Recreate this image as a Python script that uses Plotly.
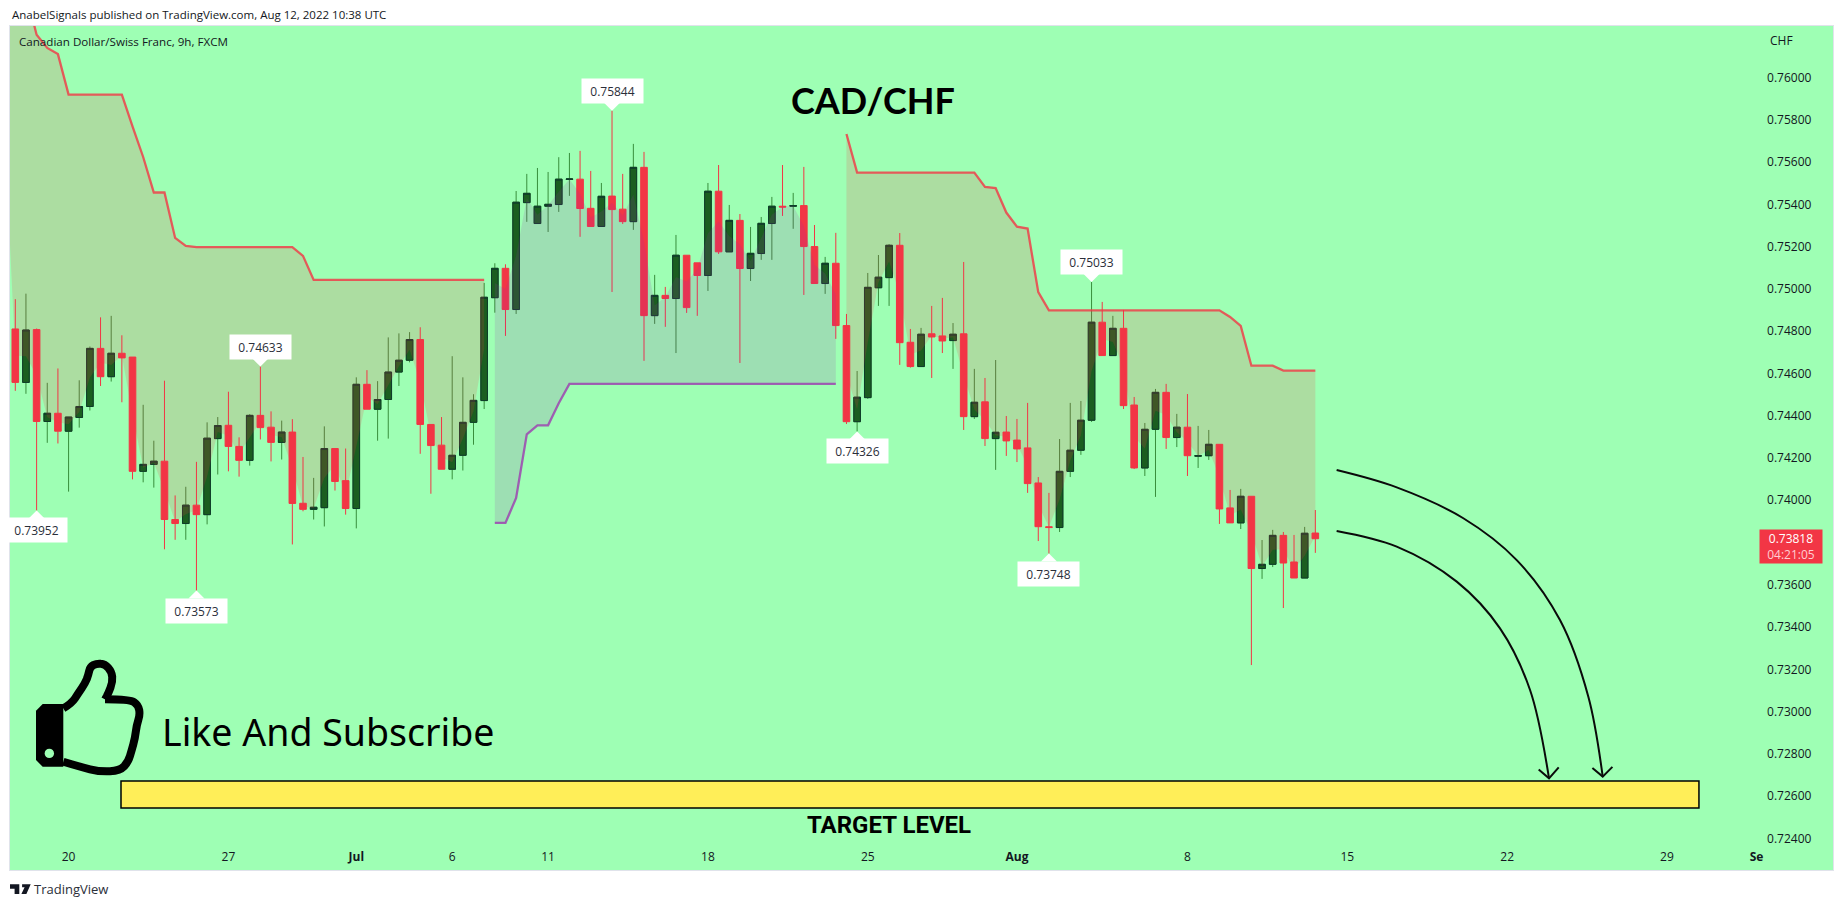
import plotly.graph_objects as go

OPEN = [.74811,.74558,.74808,.74373,.74412,.74327,.74392,.74444,.74719,.74585,.74696,.74678,.74137,.74170,.74185,.73909,.73890,.73977,.73932,.74292,
.74355,.74255,.74189,.74402,.74346,.74274,.74323,.73986,.73957,.73965,.74245,.74093,.73961,.74549,.74431,.74477,.74607,.74663,.74761,.74359,
.74261,.74147,.74213,.74369,.74472,.74959,.75098,.74903,.75409,.75310,.75392,.75400,.75519,.75520,.75382,.75296,.75440,.75378,.75319,.75576,
.74874,.74970,.74955,.75160,.75124,.75064,.75463,.75176,.75325,.75097,.75168,.75310,.75392,.75392,.75395,.75201,.75026,.75122,.74827,.74372,
.74486,.75006,.75054,.75207,.74748,.74633,.74788,.74778,.74756,.74788,.74396,.74466,.74292,.74323,.74285,.74248,.74082,.73875,.73871,.74137,
.74237,.74379,.74843,.74685,.74814,.74451,.74153,.74336,.74511,.74297,.74346,.74209,.74211,.74265,.73964,.73893,.74019,.73677,.73697,.73834,
.73708,.73632,.73845]
HIGH = [.74952,.74978,.74813,.74556,.74624,.74394,.74568,.74728,.74866,.74873,.74781,.74678,.74452,.74282,.74566,.74023,.74064,.74182,.74369,.74394,
.74514,.74298,.74408,.74633,.74421,.74377,.74384,.74205,.74106,.74350,.74245,.74245,.74582,.74616,.74564,.74771,.74790,.74796,.74819,.74359,
.74394,.74682,.74582,.74502,.75029,.75122,.75117,.75464,.75545,.75573,.75554,.75624,.75644,.75654,.75559,.75502,.75844,.75545,.75687,.75649,
.75067,.75010,.75256,.75160,.75124,.75502,.75587,.75398,.75355,.75294,.75341,.75436,.75587,.75455,.75578,.75303,.75152,.75266,.74882,.74612,
.75076,.75161,.75213,.75265,.74811,.74816,.74920,.74958,.74839,.75128,.74622,.74579,.74664,.74399,.74385,.74461,.74110,.74035,.74290,.74461,
.74470,.75033,.74939,.74873,.74901,.74489,.74366,.74527,.74551,.74409,.74503,.74352,.74333,.74265,.74049,.74054,.74019,.73812,.73860,.73850,
.73836,.73874,.73954]
LOW = [.74518,.74504,.73952,.74272,.74269,.74041,.74344,.74425,.74541,.74562,.74464,.74099,.74085,.74060,.73768,.73813,.73813,.73573,.73886,.74122,
.74137,.74112,.74164,.74288,.74184,.74193,.73791,.73948,.73909,.73876,.74046,.73932,.73867,.74431,.74282,.74292,.74541,.74653,.74220,.74031,
.74147,.74099,.74141,.74263,.74432,.74888,.74778,.74882,.75318,.75310,.75270,.75365,.75441,.75247,.75296,.75296,.74986,.75308,.75280,.74660,
.74835,.74821,.74697,.74887,.74873,.74991,.75166,.75176,.74650,.75038,.75138,.75138,.75346,.75285,.74972,.75026,.74977,.74764,.74361,.74326,
.74480,.74920,.74920,.74641,.74628,.74633,.74579,.74697,.74622,.74333,.74385,.74257,.74144,.74210,.74181,.74035,.73807,.73748,.73850,.74110,
.74215,.74371,.74685,.74685,.74432,.74148,.74115,.74016,.74243,.74252,.74115,.74153,.74191,.73888,.73893,.73864,.73220,.73628,.73684,.73490,
.73632,.73632,.73751]
CLOSE = [.74558,.74806,.74373,.74412,.74327,.74394,.74444,.74719,.74585,.74696,.74674,.74137,.74170,.74185,.73909,.73890,.73977,.73932,.74294,.74354,
.74255,.74189,.74402,.74344,.74274,.74323,.73985,.73957,.73967,.74245,.74089,.73961,.74549,.74431,.74477,.74607,.74663,.74761,.74359,.74259,
.74147,.74213,.74369,.74473,.74961,.75098,.74903,.75411,.75453,.75392,.75401,.75520,.75521,.75381,.75296,.75439,.75376,.75319,.75576,.74874,
.74970,.74955,.75160,.74912,.75064,.75463,.75176,.75325,.75097,.75169,.75311,.75392,.75388,.75395,.75201,.75026,.75122,.74827,.74372,.74488,
.75008,.75056,.75207,.74746,.74633,.74786,.74773,.74754,.74786,.74396,.74464,.74292,.74322,.74281,.74243,.74079,.73875,.73871,.74137,.74237,
.74379,.74843,.74685,.74814,.74448,.74153,.74336,.74511,.74297,.74346,.74211,.74211,.74265,.73959,.73893,.74019,.73677,.73697,.73834,.73703,
.73632,.73844,.73818]

ST_DOWN_1 = [.7680,.7660,.7640,.76204,.76141,.76112,.75920,.75920,.75920,.75920,.75920,.75920,.75770,.75625,.75457,.75457,.75242,.75204,
.75198,.75198,.75198,.75198,.75198,.75198,.75198,.75198,.75198,.75198,.75157,
.75043,.75043,.75043,.75043,.75043,.75043,.75043,.75043,.75043,.75043,.75043,.75043,.75043,.75043,.75043,.75043,.75043]
MID_BEFORE_FIRST = .7574
ST_UP = [.73893,.73893,.74011,.74312,.74355,.74355,.74459,
.74551,.74551,.74551,.74551,.74551,.74551,.74551,.74551,.74551,.74551,.74551,.74551,.74551,
.74551,.74551,.74551,.74551,.74551,.74551,.74551,.74551,.74551,.74551,.74551,.74551,.74551]
ST_DOWN_2 = [.75734,.75551,.75551,.75551,.75551,.75551,.75551,.75551,.75551,.75551,.75551,.75551,.75551,
.75483,.75478,.75362,.75295,.75286,.74985,
.74899,.74899,.74899,.74899,.74899,.74899,.74899,.74899,.74899,.74899,.74899,.74899,.74899,.74899,.74899,.74899,.74899,
.74868,.74825,.74637,.74637,.74637,.74614,.74614,.74614,.74614]

TICK_POS = [5,20,32,41,50,65,80,94,110,125,140,155,163.4]
TICK_TEXT = ["20","27","<b>Jul</b>","6","11","18","25","<b>Aug</b>","8","15","22","29","<b>Se</b>"]
PRICE_TICKS = [.724,.726,.728,.730,.732,.734,.736,.740,.742,.744,.746,.748,.750,.752,.754,.756,.758,.760]

CALLOUT_I = [2,17,23,56,79,97,101]
CALLOUT_P = [.73952,.73573,.74633,.75844,.74326,.73748,.75033]
CALLOUT_UP = [False,False,True,True,False,False,True]

ZONE_X = [9.92,158.0]
ZONE_P = [.72544,.72671]

ARROW1_X = [124.0,129.64,135.89,140.9,144.96,147.62,148.97]
ARROW1_P = [.74143,.74061,.73915,.73717,.73433,.73070,.72692]
HEAD1_X = [148.0,148.97,149.88]
HEAD1_P = [.72733,.72692,.72738]
ARROW2_X = [124.0,129.64,135.27,139.33,142.15,143.93]
ARROW2_P = [.73855,.73781,.73615,.73394,.73102,.72684]
HEAD2_X = [142.96,143.93,144.84]
HEAD2_P = [.72726,.72684,.72736]

BG = "#9EFFB4"
RED = "#F23645"
GREEN_BODY = "#1B5E20"
GREEN_EDGE = "#0E3B2A"
GREEN_WICK = "#388E3C"
FONT = "Open Sans"
PLOT_H = 844

idx = list(range(len(OPEN)))
mid = [(o + c) / 2 for o, c in zip(OPEN, CLOSE)]
green = [i for i in idx if CLOSE[i] >= OPEN[i]]
red = [i for i in idx if CLOSE[i] < OPEN[i]]

fig = go.Figure()


def cloud(xs, lower, upper, line, fillc):
    fig.add_trace(go.Scatter(x=xs, y=lower, mode="lines", line=dict(width=0), hoverinfo="skip"))
    fig.add_trace(go.Scatter(x=xs, y=upper, mode="lines", line=dict(color=line, width=2.3),
                             fill="tonexty", fillcolor=fillc, hoverinfo="skip"))


RED_FILL = "rgba(242,54,69,0.17)"
RED_LINE = "rgba(242,54,69,0.8)"
cloud(list(range(-1, 45)), [MID_BEFORE_FIRST] + mid[:45], ST_DOWN_1, RED_LINE, RED_FILL)
cloud(list(range(45, 78)), mid[45:78], ST_UP, "rgba(156,39,176,0.72)", "rgba(156,39,176,0.15)")
cloud(list(range(78, 123)), mid[78:123], ST_DOWN_2, RED_LINE, RED_FILL)

pick = lambda arr, ids: [arr[i] for i in ids]
fig.add_trace(go.Candlestick(
    x=red, open=pick(OPEN, red), high=pick(HIGH, red), low=pick(LOW, red), close=pick(CLOSE, red),
    increasing=dict(line=dict(color=RED, width=1), fillcolor=RED),
    decreasing=dict(line=dict(color=RED, width=1), fillcolor=RED), whiskerwidth=0))
fig.add_trace(go.Candlestick(
    x=green, open=pick(OPEN, green), high=pick(HIGH, green), low=pick(LOW, green), close=pick(CLOSE, green),
    increasing=dict(line=dict(color=GREEN_WICK, width=1), fillcolor=GREEN_BODY),
    decreasing=dict(line=dict(color=GREEN_WICK, width=1), fillcolor=GREEN_BODY), whiskerwidth=0))
body_top = [max(OPEN[i], CLOSE[i]) for i in green]
body_bot = [min(OPEN[i], CLOSE[i]) for i in green]
fig.add_trace(go.Candlestick(
    x=green, open=pick(OPEN, green), high=body_top, low=body_bot, close=pick(CLOSE, green),
    increasing=dict(line=dict(color=GREEN_EDGE, width=1), fillcolor=GREEN_BODY),
    decreasing=dict(line=dict(color=GREEN_EDGE, width=1), fillcolor=GREEN_BODY), whiskerwidth=0))

for xs, ps in ((ARROW1_X, ARROW1_P), (ARROW2_X, ARROW2_P)):
    fig.add_trace(go.Scatter(x=xs, y=ps, mode="lines", line=dict(color="#0a0a0a", width=2, shape="spline", smoothing=1.0), hoverinfo="skip"))
for xs, ps in ((HEAD1_X, HEAD1_P), (HEAD2_X, HEAD2_P)):
    fig.add_trace(go.Scatter(x=xs, y=ps, mode="lines", line=dict(color="#0a0a0a", width=2), hoverinfo="skip"))

shapes = [dict(type="rect", xref="x", yref="y", x0=ZONE_X[0], x1=ZONE_X[1], y0=ZONE_P[0], y1=ZONE_P[1],
               fillcolor="#FFEE58", line=dict(color="#000000", width=1.5), layer="above")]
annotations = []

for i, p, up in zip(CALLOUT_I, CALLOUT_P, CALLOUT_UP):
    s = 1 if up else -1
    shapes.append(dict(type="path", xref="x", yref="y", xsizemode="pixel", ysizemode="pixel",
                       xanchor=i, yanchor=p,
                       path=f"M -8 {s*8} L 0 0 L 8 {s*8} Z", fillcolor="white", line=dict(width=0)))
    annotations.append(dict(x=i, y=p, xref="x", yref="y", text=f"{p:.5f}", showarrow=False,
                            yanchor="bottom" if up else "top", yshift=7*s, width=59, height=22,
                            bgcolor="white", font=dict(family=FONT, size=12, color="#2a2e39")))


def pix(points, sx=3.0, sy=3.0):
    return " ".join(("M" if k == 0 else "L") + f" {x/sx:.1f} {-y/sy:.1f}" for k, (x, y) in enumerate(points))


def smooth(points, sx=3.0, sy=3.0):
    pts = [(x / sx, -y / sy) for x, y in points]
    out = [f"M {pts[0][0]:.1f} {pts[0][1]:.1f}"]
    for k in range(1, len(pts) - 1):
        mx = (pts[k][0] + pts[k + 1][0]) / 2
        my = (pts[k][1] + pts[k + 1][1]) / 2
        out.append(f"Q {pts[k][0]:.1f} {pts[k][1]:.1f} {mx:.1f} {my:.1f}")
    out.append(f"L {pts[-1][0]:.1f} {pts[-1][1]:.1f}")
    return " ".join(out)


ICON_ANCHOR_X = 1.38
ICON_ANCHOR_P = .73291
HAND_A = [(100,175),(125,160),(145,130),(165,100),(175,75),(180,50),(200,40),(225,42),(245,65),(248,95),(235,130),(225,148)]
HAND_B = [(225,148),(300,148),(325,165),(330,195),(320,225),(315,265),(305,300),(295,335),(270,362),(210,365),(150,350),(100,335)]
CUFF = [(38,162),(100,162),(100,350),(38,350),(18,330),(18,182),(38,162)]
anchored = dict(xref="x", yref="y", xsizemode="pixel", ysizemode="pixel", xanchor=ICON_ANCHOR_X, yanchor=ICON_ANCHOR_P)
for seg in (HAND_A, HAND_B):
    shapes.append(dict(type="path", path=smooth(seg), line=dict(color="#000000", width=8), **anchored))
shapes.append(dict(type="path", path=pix(CUFF) + " Z", fillcolor="#000000", line=dict(width=0), **anchored))
HOLE = (58, 310)
shapes.append(dict(type="circle", x0=HOLE[0]/3-4.7, x1=HOLE[0]/3+4.7, y0=-HOLE[1]/3-4.7, y1=-HOLE[1]/3+4.7,
                   fillcolor=BG, line=dict(width=0), **anchored))

TV_T = [(28,733),(54,733),(54,762),(41,762),(41,746),(28,746)]
TV_V = [(62,733),(86,733),(74,762),(60,762),(69,742),(62,742)]
for poly in (TV_T, TV_V):
    shapes.append(dict(type="path", xref="paper", yref="paper", xsizemode="pixel", ysizemode="pixel",
                       xanchor=-10/1823, yanchor=(870-640)/PLOT_H,
                       path=pix(poly, 2.8, 3.0) + " Z", fillcolor="#131722", line=dict(width=0)))


def text(s, x, y, xref="paper", yref="paper", size=12, color="#131722", xanchor="left", family=FONT, **kw):
    annotations.append(dict(text=s, x=x, y=y, xref=xref, yref=yref, xanchor=xanchor, yanchor="middle",
                            showarrow=False, font=dict(family=family, size=size, color=color), **kw))


text("AnabelSignals published on TradingView.com, Aug 12, 2022 10:38 UTC", 0.0, 1.0134, size=11.5)
text("Canadian Dollar/Swiss Franc, 9h, FXCM", 0.0038, 0.9822, size=11.6)
text("CHF", 0.9646, 0.9834, size=12)
text("TradingView", 0.0121, -0.0225, size=13, color="#2a2e39")
text("<b>CAD/CHF</b>", 80.5, .75895, xref="x", yref="y", size=36, color="#000000", xanchor="center", family="Lato")
text("Like And Subscribe", 13.6, .72905, xref="x", yref="y", size=37.5, color="#000000", family="Noto Sans")
text("<b>TARGET LEVEL</b>", 82.0, .72463, xref="x", yref="y", size=24, color="#000000", xanchor="center", family="Roboto")
annotations.append(dict(text="0.73818<br><span style='color:#FFCDD2'>04:21:05</span>", x=166.6, y=.73781,
                        xref="x", yref="y", showarrow=False, width=60, height=31, align="center",
                        bgcolor=RED, font=dict(family=FONT, size=12, color="white")))

fig.update_layout(
    width=1834, height=907, autosize=False,
    margin=dict(l=10, r=1, t=26, b=37, autoexpand=False),
    paper_bgcolor="white", plot_bgcolor=BG, showlegend=False,
    boxmode="overlay", boxgap=0.38, boxgroupgap=0,
    shapes=shapes, annotations=annotations,
    xaxis=dict(range=[-0.497, 170.58], tickmode="array", tickvals=TICK_POS, ticktext=TICK_TEXT,
               rangeslider=dict(visible=False), showgrid=False, zeroline=False,
               ticklabelposition="inside", ticklabelstandoff=6, ticks="", showline=True, mirror=True,
               linecolor="#E0E3EB", tickfont=dict(family=FONT, size=12, color="#131722")),
    yaxis=dict(range=[.7225, .76245], side="right", tickmode="array", tickvals=PRICE_TICKS,
               tickformat=".5f", showgrid=False, zeroline=False, ticklabelposition="inside",
               ticklabelstandoff=21, ticks="", showline=True, mirror=True, linecolor="#E0E3EB",
               tickfont=dict(family=FONT, size=12, color="#131722")),
)

fig.write_html("out.html", post_script="document.body.style.margin='0';", config={"displayModeBar": False})
